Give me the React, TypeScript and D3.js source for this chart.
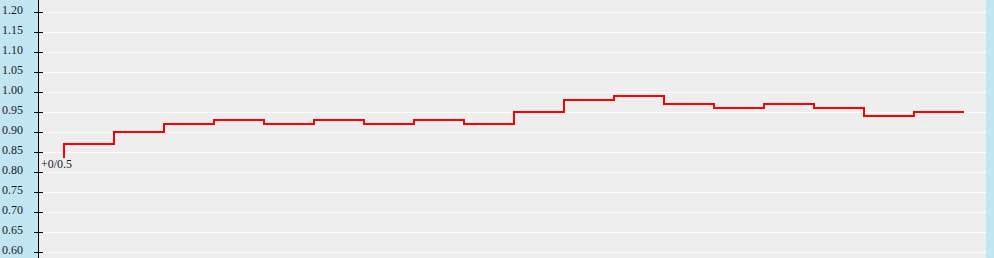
import React from "react";
import * as d3 from "d3";

const startValue = 0.835;
const stepValues = [0.87, 0.9, 0.92, 0.93, 0.92, 0.93, 0.92, 0.93, 0.92, 0.95, 0.98, 0.99, 0.97, 0.96, 0.97, 0.96, 0.94, 0.95];
const tickLabels = ["0.60", "0.65", "0.70", "0.75", "0.80", "0.85", "0.90", "0.95", "1.00", "1.05", "1.10", "1.15", "1.20"];
const startLabel = "+0/0.5";

const W = 994;
const H = 258;

export default function App() {
  const y = d3.scaleLinear().domain([0.6, 1.2]).range([252, 12]);
  const x = d3.scaleLinear().domain([0, stepValues.length]).range([64, 964]);

  const pts: [number, number][] = [[0, startValue]];
  stepValues.forEach((v, i) => pts.push([i, v]));
  pts.push([stepValues.length, stepValues[stepValues.length - 1]]);

  const line = d3
    .line<[number, number]>()
    .x((d) => x(d[0]))
    .y((d) => y(d[1]))
    .curve(d3.curveStepAfter);

  const plotLeft = 39;
  const plotRight = 986;

  return (
    <svg
      width={W}
      height={H}
      style={{ position: "fixed", left: 0, top: 0, display: "block" }}
      fontFamily="'Liberation Serif', 'Times New Roman', serif"
    >
      <rect x={0} y={0} width={W} height={H} fill="#c2e6f1" />
      <rect x={plotLeft} y={0} width={plotRight - plotLeft} height={H} fill="#eeeeee" />
      {tickLabels.map((t) => {
        const yy = Math.round(y(+t)) + 0.5;
        return (
          <g key={t}>
            <line x1={plotLeft} x2={plotRight} y1={yy} y2={yy} stroke="#ffffff" strokeWidth={1} />
            <line x1={34} x2={43} y1={yy} y2={yy} stroke="#000" strokeWidth={1} />
            <text x={2} y={yy + 1} fontSize={12} fill="#1a1a2a">
              {t}
            </text>
          </g>
        );
      })}
      <line x1={38.5} x2={38.5} y1={0} y2={H} stroke="#000" strokeWidth={1} />
      <path d={line(pts) || ""} fill="none" stroke="#ff0000" strokeWidth={2} />
      <text x={41} y={168} fontSize={12} fill="#1a1a2a">
        {startLabel}
      </text>
    </svg>
  );
}
